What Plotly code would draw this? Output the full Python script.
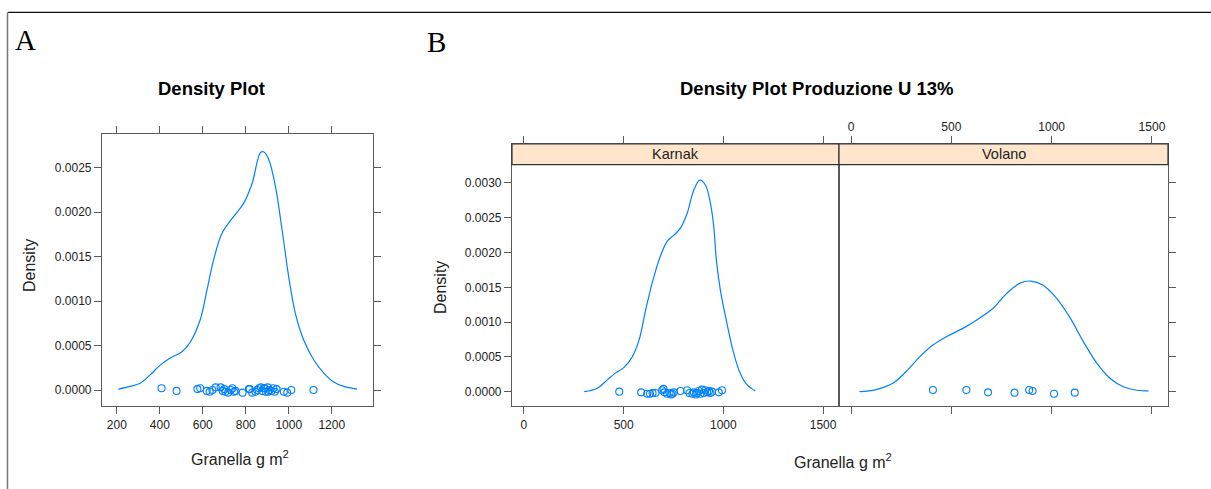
import plotly.graph_objects as go

# ---------------- data ----------------
karnak_values = [478, 588, 618, 632, 645, 660, 693, 700, 705, 718, 730, 738, 745, 752,
                 785, 818, 830, 845, 852, 862, 870, 877, 885, 893, 902, 910, 920, 928,
                 935, 943, 977, 993]
karnak_jitter = [0, -1, -3, -3, -2, -2, 2, 4, -1, -3, -2, -4, -3, -1,
                 1, 2, -2, -3, -1, -4, -2, 1, -3, 3, -2, 2, -1, 1,
                 -2, 0, -1, 2]  # x 1e-5 density units
volano_values = [408, 575, 683, 815, 888, 905, 1012, 1115]
volano_jitter = [2.4, 2.4, -1, -1.4, 2.4, 1, -3, -1.4]

all_jitter = [-1, 2, -1, -2, 0, 3, -1, 1, -2, -3, 0, 2, -2, -1, -3, 1, -3, -2, 0, 2,
              3, -1, 2, -2, 3, 0, -1, 2, -2, 1, -2, -3,
              2, 1, 3, 1, 2, -2, 0, 0]

# density curves
all_dens_x = [207, 262, 308, 355, 402, 448, 503, 542, 588, 619, 650, 689, 743, 790, 829,
              868, 883, 906, 938, 969, 1000, 1031, 1070, 1116, 1163, 1209, 1256, 1318]
all_dens_y = [0.00001, 0.00004, 0.000075, 0.00017, 0.00028, 0.00036, 0.00043, 0.00054,
              0.00079, 0.00112, 0.00146, 0.00176, 0.00195, 0.0021, 0.00232, 0.00267,
              0.00268, 0.0026, 0.00229, 0.0018, 0.00127, 0.00086, 0.00056, 0.00034,
              0.00019, 0.00009, 0.00004, 0.00001]

karnak_dens_x = [302, 368, 418, 460, 502, 543, 577, 610, 643, 677, 718, 752, 785, 818,
                 852, 882, 910, 935, 952, 965, 985, 1018, 1052, 1085, 1118, 1160]
karnak_dens_y = [0.0, 0.00005, 0.00017, 0.00027, 0.00035, 0.0005, 0.00074, 0.00117,
                 0.00156, 0.00189, 0.00216, 0.00225, 0.00235, 0.00256, 0.0029, 0.00304,
                 0.00297, 0.00271, 0.00237, 0.00189, 0.00146, 0.00098, 0.00055, 0.00026,
                 0.0001, 0.00001]

volano_dens_x = [42, 125, 208, 275, 342, 408, 475, 558, 642, 708, 775, 842, 895, 958,
                 1025, 1092, 1158, 1225, 1292, 1358, 1425, 1483]
volano_dens_y = [0.0, 0.00003, 0.00012, 0.00029, 0.0005, 0.00067, 0.00079, 0.00091,
                 0.00106, 0.0012, 0.00141, 0.00156, 0.00159, 0.00153, 0.00134, 0.00106,
                 0.00072, 0.00041, 0.00019, 0.00007, 0.00002, 0.00001]

xticks_a = [200, 400, 600, 800, 1000, 1200]
yticks_a = [0.0, 0.0005, 0.0010, 0.0015, 0.0020, 0.0025]
xticks_b = [0, 500, 1000, 1500]
yticks_b = [0.0, 0.0005, 0.0010, 0.0015, 0.0020, 0.0025, 0.0030]
panel_names = ["Karnak", "Volano"]

# ---------------- figure ----------------
W, H = 1211, 489
def px(x): return x / W
def py(y): return 1 - y / H

BLUE = "#0080ff"
AX = "#5a5a5a"
FONT = "Liberation Sans, Arial, Helvetica, sans-serif"

fig = go.Figure()

all_values = karnak_values + volano_values

def curve(x, y, xa, ya):
    fig.add_trace(go.Scatter(x=x, y=y, mode="lines", line=dict(color=BLUE, width=1.2, shape="spline"),
                             xaxis=xa, yaxis=ya, hoverinfo="skip", showlegend=False))

def points(x, jit, xa, ya):
    fig.add_trace(go.Scatter(x=x, y=[j * 1e-5 for j in jit], mode="markers",
                             marker=dict(symbol="circle-open", size=7, color=BLUE, line=dict(width=1.1, color=BLUE)),
                             xaxis=xa, yaxis=ya, hoverinfo="skip", showlegend=False))

curve(all_dens_x, all_dens_y, "x", "y")
points(all_values, all_jitter, "x", "y")
curve(karnak_dens_x, karnak_dens_y, "x2", "y2")
points(karnak_values, karnak_jitter, "x2", "y2")
curve(volano_dens_x, volano_dens_y, "x3", "y3")
points(volano_values, volano_jitter, "x3", "y3")

tickfont = dict(family=FONT, size=12, color="#222")
common = dict(showgrid=False, zeroline=False, showline=True, linecolor=AX, linewidth=1.2,
              ticks="outside", ticklen=7, tickcolor=AX, tickwidth=1.2, tickfont=tickfont)

fig.update_layout(
    width=W, height=H, margin=dict(l=0, r=0, t=0, b=0),
    paper_bgcolor="white", plot_bgcolor="white",
    font=dict(family=FONT),
    xaxis=dict(domain=[px(102), px(373)], range=[131, 1392], tickvals=xticks_a,
               ticktext=[str(v) for v in xticks_a], mirror="ticks", anchor="y", **common),
    yaxis=dict(domain=[py(406), py(134)], range=[-0.00018, 0.00288], tickvals=yticks_a,
               ticktext=[f"{v:.4f}" for v in yticks_a], mirror="ticks", anchor="x", **common),
    xaxis2=dict(domain=[px(512), px(839)], range=[-60, 1580], tickvals=xticks_b,
                ticktext=[str(v) for v in xticks_b], mirror="ticks", anchor="y2", **common),
    yaxis2=dict(domain=[py(406), py(144)], range=[-0.000206, 0.00356], tickvals=yticks_b,
                ticktext=[f"{v:.4f}" for v in yticks_b], mirror=True, anchor="x2", **common),
    xaxis3=dict(domain=[px(839), px(1168)], range=[-60, 1580], tickvals=xticks_b,
                ticktext=[str(v) for v in xticks_b], side="top", mirror="ticks", anchor="y3", **common),
    yaxis3=dict(domain=[py(406), py(144)], range=[-0.000206, 0.00356], tickvals=yticks_b,
                showticklabels=False, side="right", mirror=True, anchor="x3", **common),
)

shapes = []
# strips
for (x0, x1) in [(512, 839), (839, 1168)]:
    shapes.append(dict(type="rect", xref="paper", yref="paper", x0=px(x0), x1=px(x1),
                       y0=py(164.7), y1=py(144), fillcolor="#ffe5cc",
                       line=dict(color="#333", width=1.2), layer="above"))
# outer frame lines
shapes.append(dict(type="line", xref="paper", yref="paper", x0=px(8), x1=1, y0=py(12.3), y1=py(12.3),
                   line=dict(color="#111", width=1.3)))
shapes.append(dict(type="line", xref="paper", yref="paper", x0=px(7.5), x1=px(7.5), y0=py(12.3), y1=0,
                   line=dict(color="#777", width=1.5)))
fig.update_layout(shapes=shapes)

ann = []
for name, (x0, x1) in zip(panel_names, [(512, 839), (839, 1168)]):
    ann.append(dict(text=name, x=px((x0 + x1) / 2), y=py(154.5), xref="paper", yref="paper",
                    showarrow=False, font=dict(family=FONT, size=14.5, color="#222"),
                    xanchor="center", yanchor="middle"))
ann += [
    dict(text="A", x=px(13), y=py(40), xref="paper", yref="paper", showarrow=False,
         font=dict(family="Liberation Serif, Times New Roman, serif", size=29, color="black"),
         xanchor="left", yanchor="middle"),
    dict(text="B", x=px(425), y=py(42), xref="paper", yref="paper", showarrow=False,
         font=dict(family="Liberation Serif, Times New Roman, serif", size=29, color="black"),
         xanchor="left", yanchor="middle"),
    dict(text="<b>Density Plot</b>", x=px(212), y=py(88), xref="paper", yref="paper", showarrow=False,
         font=dict(family=FONT, size=18.5, color="black"), xanchor="center", yanchor="middle"),
    dict(text="<b>Density Plot Produzione U 13%</b>", x=px(816), y=py(88), xref="paper", yref="paper",
         showarrow=False, font=dict(family=FONT, size=18.5, color="black"), xanchor="center", yanchor="middle"),
    dict(text="Density", x=px(29), y=py(266), xref="paper", yref="paper", showarrow=False, textangle=-90,
         font=dict(family=FONT, size=16, color="#222"), xanchor="center", yanchor="middle"),
    dict(text="Density", x=px(440), y=py(288), xref="paper", yref="paper", showarrow=False, textangle=-90,
         font=dict(family=FONT, size=16, color="#222"), xanchor="center", yanchor="middle"),
    dict(text="Granella g m<sup>2</sup>", x=px(240), y=py(458), xref="paper", yref="paper", showarrow=False,
         font=dict(family=FONT, size=16, color="#222"), xanchor="center", yanchor="middle"),
    dict(text="Granella g m<sup>2</sup>", x=px(843), y=py(461), xref="paper", yref="paper", showarrow=False,
         font=dict(family=FONT, size=16, color="#222"), xanchor="center", yanchor="middle"),
]
fig.update_layout(annotations=ann)

fig.write_html("out.html")
